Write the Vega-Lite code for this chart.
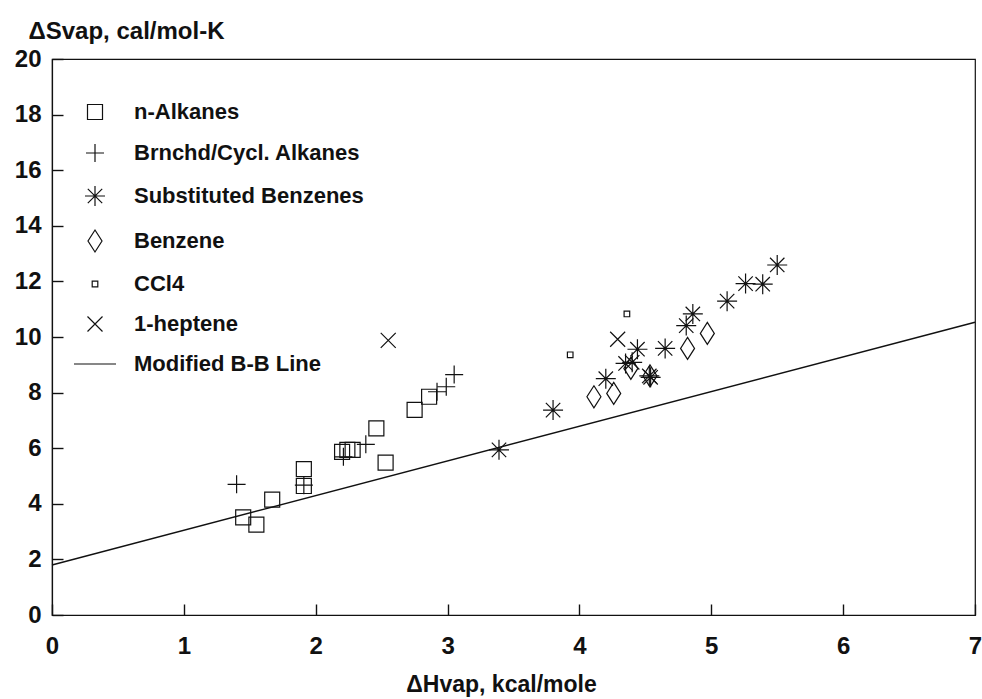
{
  "$schema": "https://vega.github.io/schema/vega-lite/v6.json",
  "autosize": {"type": "none"},
  "padding": {"left": 52, "top": 59, "right": 7, "bottom": 84},
  "width": 923,
  "height": 556,
  "config": {
    "font": "Liberation Sans",
    "view": {"stroke": "#111", "strokeWidth": 1.2}
  },
  "datasets": {
    "pts": [
      {"x": 1.45, "y": 3.51, "g": "n-Alkanes"},
      {"x": 1.55, "y": 3.25, "g": "n-Alkanes"},
      {"x": 1.67, "y": 4.15, "g": "n-Alkanes"},
      {"x": 1.91, "y": 5.25, "g": "n-Alkanes"},
      {"x": 1.91, "y": 4.64, "g": "n-Alkanes"},
      {"x": 2.20, "y": 5.87, "g": "n-Alkanes"},
      {"x": 2.24, "y": 5.94, "g": "n-Alkanes"},
      {"x": 2.28, "y": 5.94, "g": "n-Alkanes"},
      {"x": 2.46, "y": 6.71, "g": "n-Alkanes"},
      {"x": 2.53, "y": 5.48, "g": "n-Alkanes"},
      {"x": 2.75, "y": 7.38, "g": "n-Alkanes"},
      {"x": 2.86, "y": 7.85, "g": "n-Alkanes"},
      {"x": 1.40, "y": 4.70, "g": "Brnchd/Cycl. Alkanes"},
      {"x": 1.91, "y": 4.67, "g": "Brnchd/Cycl. Alkanes"},
      {"x": 2.21, "y": 5.69, "g": "Brnchd/Cycl. Alkanes"},
      {"x": 2.38, "y": 6.14, "g": "Brnchd/Cycl. Alkanes"},
      {"x": 2.92, "y": 8.03, "g": "Brnchd/Cycl. Alkanes"},
      {"x": 2.99, "y": 8.21, "g": "Brnchd/Cycl. Alkanes"},
      {"x": 3.05, "y": 8.65, "g": "Brnchd/Cycl. Alkanes"},
      {"x": 3.39, "y": 5.94, "g": "Substituted Benzenes"},
      {"x": 3.80, "y": 7.37, "g": "Substituted Benzenes"},
      {"x": 4.20, "y": 8.50, "g": "Substituted Benzenes"},
      {"x": 4.35, "y": 9.05, "g": "Substituted Benzenes"},
      {"x": 4.40, "y": 9.09, "g": "Substituted Benzenes"},
      {"x": 4.44, "y": 9.56, "g": "Substituted Benzenes"},
      {"x": 4.53, "y": 8.60, "g": "Substituted Benzenes"},
      {"x": 4.54, "y": 8.55, "g": "Substituted Benzenes"},
      {"x": 4.65, "y": 9.59, "g": "Substituted Benzenes"},
      {"x": 4.81, "y": 10.41, "g": "Substituted Benzenes"},
      {"x": 4.86, "y": 10.83, "g": "Substituted Benzenes"},
      {"x": 5.12, "y": 11.29, "g": "Substituted Benzenes"},
      {"x": 5.26, "y": 11.92, "g": "Substituted Benzenes"},
      {"x": 5.39, "y": 11.90, "g": "Substituted Benzenes"},
      {"x": 5.50, "y": 12.59, "g": "Substituted Benzenes"},
      {"x": 4.11, "y": 7.85, "g": "Benzene"},
      {"x": 4.26, "y": 7.97, "g": "Benzene"},
      {"x": 4.39, "y": 8.87, "g": "Benzene"},
      {"x": 4.535, "y": 8.60, "g": "Benzene"},
      {"x": 4.82, "y": 9.59, "g": "Benzene"},
      {"x": 4.97, "y": 10.13, "g": "Benzene"},
      {"x": 3.93, "y": 9.36, "g": "CCl4"},
      {"x": 4.36, "y": 10.83, "g": "CCl4"},
      {"x": 2.55, "y": 9.88, "g": "1-heptene"},
      {"x": 4.29, "y": 9.92, "g": "1-heptene"}
    ],
    "line": [
      {"x": 0, "y": 1.80},
      {"x": 7, "y": 10.53}
    ]
  },
  "layer": [
    {
      "data": {"name": "line"},
      "mark": {"type": "line", "color": "#111", "strokeWidth": 1.4},
      "encoding": {
        "x": {"field": "x", "type": "quantitative", "scale": {"domain": [0, 7], "nice": false},
          "axis": {"values": [0,1,2,3,4,5,6,7], "format": "d", "grid": false, "domain": true, "domainColor": "#111", "domainWidth": 1.2, "ticks": true, "tickSize": -11, "tickWidth": 1.4, "tickColor": "#111", "zindex": 2,
            "labelFlush": false, "labelPadding": 30, "labelFontSize": 24, "labelFontWeight": "bold", "labelColor": "#111",
            "title": "ΔHvap, kcal/mole", "titleColor": "#111", "titleFontSize": 23, "titleFontWeight": "bold", "titleX": 449, "titleY": 76, "titleBaseline": "alphabetic", "titleAlign": "center"}},
        "y": {"field": "y", "type": "quantitative", "scale": {"domain": [0, 20], "nice": false},
          "axis": {"values": [0,2,4,6,8,10,12,14,16,18,20], "format": "d", "grid": false, "domain": true, "domainColor": "#111", "domainWidth": 1.2, "ticks": true, "tickSize": -11, "tickWidth": 1.4, "tickColor": "#111", "zindex": 2,
            "labelFlush": false, "labelPadding": 22, "labelFontSize": 24, "labelFontWeight": "bold", "labelColor": "#111",
            "title": "ΔSvap, cal/mol-K", "titleColor": "#111", "titleFontSize": 24, "titleFontWeight": "bold", "titleAngle": 0, "titleAlign": "left", "titleBaseline": "alphabetic", "titleX": -24, "titleY": -21}}
      }
    },
    {
      "data": {"name": "pts"},
      "mark": {"type": "point", "filled": false, "size": 400, "strokeWidth": 1.2, "color": "#111", "opacity": 1},
      "encoding": {
        "x": {"field": "x", "type": "quantitative"},
        "y": {"field": "y", "type": "quantitative"},
        "shape": {
          "field": "g", "type": "nominal",
          "scale": {
            "domain": ["n-Alkanes", "Brnchd/Cycl. Alkanes", "Substituted Benzenes", "Benzene", "CCl4", "1-heptene", "Modified B-B Line"],
            "range": [
              "M-0.75,-0.75H0.75V0.75H-0.75Z",
              "M-0.9,0H0.9M0,-0.9V0.9",
              "M-1,0H1M0,-1V1M-0.72,-0.72L0.72,0.72M-0.72,0.72L0.72,-0.72",
              "M0,-1.1L0.7,0L0,1.1L-0.7,0Z",
              "M-0.28,-0.28H0.28V0.28H-0.28Z",
              "M-0.75,-0.75L0.75,0.75M-0.75,0.75L0.75,-0.75",
              "M-2.1,0H2.1"
            ]
          },
          "legend": {
            "title": null,
            "orient": "none",
            "legendX": 32,
            "legendY": 42,
            "padding": 0,
            "symbolSize": 400,
            "symbolStrokeWidth": 1.2,
            "symbolStrokeColor": "#111",
            "symbolFillColor": "transparent",
            "labelFontSize": 22,
            "labelFontWeight": "bold",
            "labelColor": "#111",
            "labelOffset": 28,
            "rowPadding": 18,
            "labelLimit": 400
          }
        }
      }
    }
  ]
}
